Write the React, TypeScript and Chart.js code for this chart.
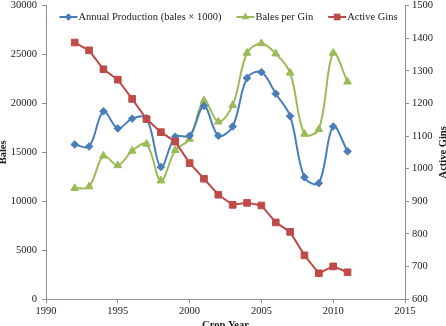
import React, { useEffect, useRef } from 'react';
import { Chart, registerables } from 'chart.js';

Chart.register(...registerables);

const years = [1992, 1993, 1994, 1995, 1996, 1997, 1998, 1999, 2000, 2001, 2002, 2003, 2004, 2005, 2006, 2007, 2008, 2009, 2010, 2011];
const annualProduction = [15800, 15600, 19200, 17450, 18450, 18500, 13500, 16600, 16700, 19750, 16700, 17650, 22600, 23200, 21000, 18700, 12450, 11850, 17650, 15100];
const balesPerGin = [11330, 11500, 14640, 13660, 15150, 15860, 12100, 15220, 16370, 20290, 18130, 19820, 25160, 26140, 25090, 23130, 16880, 17350, 25160, 22220];
const activeGins = [1387, 1363, 1305, 1273, 1214, 1152, 1112, 1083, 1017, 969, 920, 889, 895, 887, 835, 806, 734, 679, 700, 682];
const seriesLabels = ['Annual Production (bales \u00d7 1000)', 'Bales per Gin', 'Active Gins'];
const xTitle = 'Crop Year';
const leftTitle = 'Bales';
const rightTitle = 'Active Gins';

const FONT = '"Liberation Serif", "Times New Roman", serif';
const TEXT = '#1a1a1a';
const AXIS = '#8f8f8f';
const BLUE = '#4A7EBB';
const GREEN = '#9BBB59';
const RED = '#BE4B48';

function drawMarker(ctx: CanvasRenderingContext2D, style: string, x: number, y: number, r: number, color: string) {
  ctx.fillStyle = color;
  ctx.beginPath();
  if (style === 'rectRot') {
    ctx.moveTo(x, y - r);
    ctx.lineTo(x + r, y);
    ctx.lineTo(x, y + r);
    ctx.lineTo(x - r, y);
  } else if (style === 'triangle') {
    const a = (2 * Math.PI) / 3;
    ctx.moveTo(x, y - r);
    ctx.lineTo(x + Math.sin(a) * r, y - Math.cos(a) * r);
    ctx.lineTo(x - Math.sin(a) * r, y - Math.cos(a) * r);
  } else {
    const s = Math.SQRT1_2 * r;
    ctx.rect(x - s, y - s, 2 * s, 2 * s);
  }
  ctx.closePath();
  ctx.fill();
}

const customDraw = {
  id: 'customDraw',
  afterDraw(chart: any) {
    const ctx: CanvasRenderingContext2D = chart.ctx;
    const area = chart.chartArea;
    ctx.save();
    // legend
    ctx.font = `10.5px ${FONT}`;
    const lineLen = 18;
    const gap = 15;
    const ds = chart.data.datasets;
    const widths = ds.map((d: any) => ctx.measureText(d.label).width);
    let total = 0;
    widths.forEach((w: number) => { total += lineLen + 1 + w; });
    total += gap * (ds.length - 1);
    let x = (area.left + area.right) / 2 + 3 - total / 2;
    const y = 17;
    ds.forEach((d: any, i: number) => {
      ctx.strokeStyle = d.borderColor;
      ctx.lineWidth = 2;
      ctx.beginPath();
      ctx.moveTo(x, y);
      ctx.lineTo(x + lineLen, y);
      ctx.stroke();
      drawMarker(ctx, d.pointStyle, x + lineLen / 2, y, d.pointRadius, d.borderColor);
      ctx.fillStyle = TEXT;
      ctx.textAlign = 'left';
      ctx.textBaseline = 'middle';
      ctx.fillText(d.label, x + lineLen + 1, y + 0.5);
      x += lineLen + 1 + widths[i] + gap;
    });
    // right axis title
    ctx.font = `bold 10.5px ${FONT}`;
    ctx.fillStyle = TEXT;
    ctx.translate(443, (area.top + area.bottom) / 2);
    ctx.rotate(-Math.PI / 2);
    ctx.textAlign = 'center';
    ctx.textBaseline = 'middle';
    ctx.fillText(rightTitle, 0, 0);
    ctx.restore();
  },
};

export default function App() {
  const ref = useRef<HTMLCanvasElement | null>(null);

  useEffect(() => {
    document.body.style.margin = '0';
    const canvas = ref.current;
    if (!canvas) return;
    const tickFont = { family: FONT, size: 10.5 };
    const titleFont = { family: FONT, size: 10.5, weight: 'bold' as const };
    const chart = new Chart(canvas, {
      type: 'line',
      data: {
        datasets: [
          {
            label: seriesLabels[0],
            data: years.map((x, i) => ({ x, y: annualProduction[i] })),
            borderColor: BLUE,
            backgroundColor: BLUE,
            pointBackgroundColor: BLUE,
            pointBorderColor: BLUE,
            pointStyle: 'rectRot',
            pointRadius: 3.8,
            pointBorderWidth: 1,
            borderWidth: 2,
            tension: 0.35,
            yAxisID: 'y',
            order: 1,
          },
          {
            label: seriesLabels[1],
            data: years.map((x, i) => ({ x, y: balesPerGin[i] })),
            borderColor: GREEN,
            backgroundColor: GREEN,
            pointBackgroundColor: GREEN,
            pointBorderColor: GREEN,
            pointStyle: 'triangle',
            pointRadius: 4.5,
            pointBorderWidth: 1,
            borderWidth: 2,
            tension: 0.35,
            yAxisID: 'y',
            order: 2,
          },
          {
            label: seriesLabels[2],
            data: years.map((x, i) => ({ x, y: activeGins[i] })),
            borderColor: RED,
            backgroundColor: RED,
            pointBackgroundColor: RED,
            pointBorderColor: RED,
            pointStyle: 'rect',
            pointRadius: 4.7,
            pointBorderWidth: 1,
            borderWidth: 2,
            tension: 0,
            yAxisID: 'y1',
            order: 0,
          },
        ],
      },
      options: {
        responsive: false,
        animation: false,
        devicePixelRatio: 1,
        layout: { padding: { top: 3, left: 0, right: 0, bottom: 0 } },
        plugins: {
          legend: { display: false },
          tooltip: { enabled: false },
        },
        scales: {
          x: {
            type: 'linear',
            min: 1990,
            max: 2015,
            ticks: { stepSize: 5, font: tickFont, color: TEXT, padding: 2, callback: (v: any) => String(v) },
            grid: { drawOnChartArea: false, drawTicks: true, tickLength: 4, color: AXIS },
            border: { color: AXIS, width: 1 },
            title: { display: true, text: xTitle, font: titleFont, color: TEXT, padding: { top: 0, bottom: -6 } },
            afterFit: (s: any) => { s.height = 27; s.paddingLeft = 0; s.paddingRight = 0; },
          },
          y: {
            position: 'left',
            min: 0,
            max: 30000,
            ticks: { stepSize: 5000, font: tickFont, color: TEXT, padding: 5, callback: (v: any) => String(v) },
            grid: { drawOnChartArea: false, drawTicks: true, tickLength: 4, color: AXIS },
            border: { color: AXIS, width: 1 },
            title: { display: true, text: leftTitle, font: titleFont, color: TEXT, padding: { top: -3, bottom: 0 } },
            afterFit: (s: any) => { s.width = 46; s.paddingTop = 0; s.paddingBottom = 0; },
          },
          y1: {
            position: 'right',
            min: 600,
            max: 1500,
            ticks: { stepSize: 100, font: tickFont, color: TEXT, padding: 3, callback: (v: any) => String(v) },
            grid: { drawOnChartArea: false, drawTicks: true, tickLength: 4, color: AXIS },
            border: { color: AXIS, width: 1 },
            afterFit: (s: any) => { s.width = 41; s.paddingTop = 0; s.paddingBottom = 0; },
          },
        },
      },
      plugins: [customDraw],
    });
    return () => chart.destroy();
  }, []);

  return (
    <div style={{ width: 446, height: 326 }}>
      <canvas ref={ref} width={446} height={326} style={{ display: 'block' }} />
    </div>
  );
}
